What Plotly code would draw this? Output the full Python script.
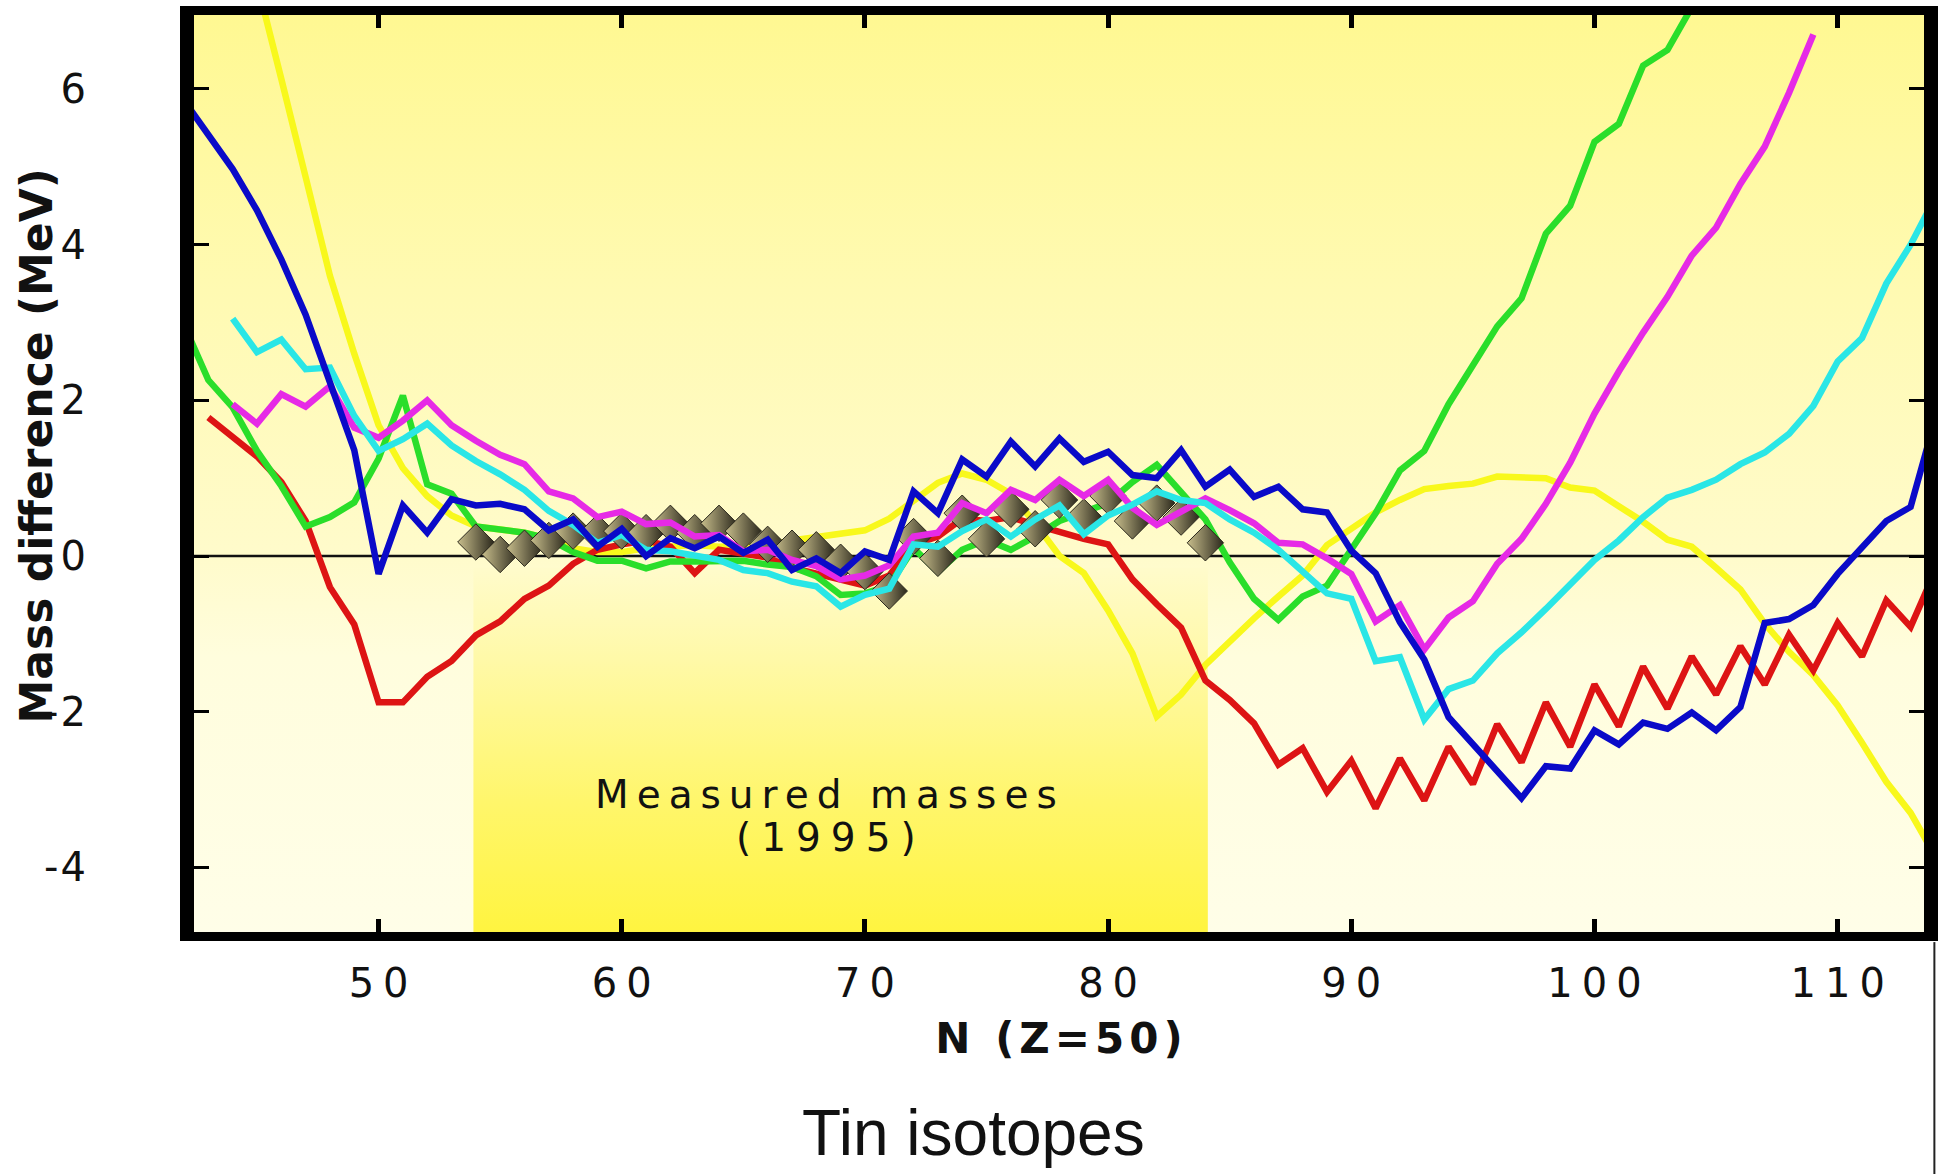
import plotly.graph_objects as go

# ---------------- data ----------------
# mass difference (MeV) versus neutron number N for tin (Z=50)
RED_N0 = 43
RED = [1.78, 1.52, 1.28, 0.95, 0.45, -0.40, -0.88, -1.88, -1.88, -1.55,
       -1.35, -1.02, -0.84, -0.55, -0.38, -0.10, 0.08, 0.15, 0.20, 0.12,
       -0.22, 0.08, 0.02, -0.02, -0.15, -0.22, -0.30, -0.38, -0.25, 0.15,
       0.25, 0.48, 0.45, 0.50, 0.40, 0.30, 0.22, 0.15, -0.30, -0.62,
       -0.92, -1.60, -1.85, -2.15, -2.68, -2.47, -3.03, -2.63, -3.24, -2.60,
       -3.14, -2.45, -2.93, -2.16, -2.65, -1.88, -2.45, -1.65, -2.19, -1.42,
       -1.96, -1.29, -1.78, -1.16, -1.65, -1.01, -1.47, -0.86, -1.29, -0.57,
       -0.91, -0.20]

BLUE_N0 = 42
BLUE = [5.85, 5.42, 4.97, 4.44, 3.81, 3.10, 2.20, 1.36, -0.23, 0.65,
        0.30, 0.73, 0.65, 0.67, 0.60, 0.33, 0.47, 0.12, 0.35, 0.00,
        0.23, 0.10, 0.25, 0.04, 0.21, -0.18, -0.03, -0.22, 0.06, -0.05,
        0.83, 0.55, 1.24, 1.02, 1.47, 1.15, 1.51, 1.21, 1.34, 1.04,
        1.00, 1.36, 0.89, 1.11, 0.76, 0.89, 0.60, 0.56, 0.07, -0.22,
        -0.85, -1.33, -2.07, -2.42, -2.75, -3.11, -2.70, -2.73, -2.24, -2.42,
        -2.14, -2.22, -2.01, -2.24, -1.94, -0.86, -0.81, -0.63, -0.23, 0.12,
        0.45, 0.63, 1.75]

YELLOW_N0 = 44
YELLOW = [8.60, 7.40, 6.13, 4.87, 3.60, 2.60, 1.68, 1.13, 0.77, 0.52,
          0.38, 0.34, 0.30, 0.22, 0.10, 0.05, 0.05, 0.10, 0.12, 0.14,
          0.12, 0.12, 0.14, 0.20, 0.25, 0.28, 0.33, 0.48, 0.72, 0.94,
          1.06, 0.98, 0.80, 0.42, 0.00, -0.22, -0.70, -1.25, -2.06, -1.78,
          -1.40, -1.09, -0.80, -0.52, -0.25, 0.14, 0.36, 0.56, 0.72, 0.86,
          0.90, 0.93, 1.02, 1.02, 1.00, 0.88, 0.84, 0.64, 0.44, 0.21,
          0.12, -0.15, -0.43, -0.87, -1.23, -1.53, -1.92, -2.40, -2.90, -3.30,
          -3.85]

GREEN_N0 = 42
GREEN = [2.97, 2.26, 1.91, 1.35, 0.90, 0.38, 0.50, 0.69, 1.25, 2.06,
         0.92, 0.80, 0.38, 0.34, 0.30, 0.22, 0.05, -0.06, -0.06, -0.16,
         -0.07, -0.07, -0.07, -0.06, -0.11, -0.14, -0.26, -0.50, -0.48, -0.38,
         0.10, -0.20, 0.08, 0.21, 0.08, 0.25, 0.45, 0.56, 0.68, 0.95,
         1.17, 0.82, 0.47, -0.08, -0.55, -0.82, -0.52, -0.38, 0.07, 0.55,
         1.10, 1.35, 1.95, 2.45, 2.95, 3.31, 4.14, 4.50, 5.32, 5.55,
         6.30, 6.50, 7.05, 7.70]

MAGENTA_N0 = 44
MAGENTA = [1.95, 1.70, 2.08, 1.92, 2.18, 1.65, 1.52, 1.74, 2.00, 1.68,
           1.48, 1.30, 1.18, 0.83, 0.74, 0.50, 0.57, 0.41, 0.43, 0.25,
           0.27, 0.06, 0.08, -0.05, -0.13, -0.30, -0.25, -0.12, 0.25, 0.30,
           0.68, 0.55, 0.85, 0.72, 0.98, 0.77, 0.98, 0.62, 0.40, 0.57,
           0.74, 0.59, 0.42, 0.17, 0.15, -0.03, -0.23, -0.84, -0.63, -1.20,
           -0.79, -0.58, -0.10, 0.22, 0.67, 1.20, 1.83, 2.37, 2.87, 3.33,
           3.86, 4.22, 4.78, 5.26, 5.95, 6.70]

CYAN_N0 = 44
CYAN = [3.05, 2.62, 2.78, 2.40, 2.42, 1.80, 1.35, 1.50, 1.70, 1.42,
        1.22, 1.05, 0.85, 0.58, 0.40, 0.17, 0.27, 0.08, 0.06, 0.00,
        -0.05, -0.18, -0.22, -0.33, -0.39, -0.65, -0.50, -0.42, 0.15, 0.12,
        0.32, 0.47, 0.25, 0.47, 0.65, 0.28, 0.52, 0.66, 0.83, 0.72,
        0.68, 0.47, 0.30, 0.08, -0.20, -0.48, -0.55, -1.35, -1.30, -2.10,
        -1.71, -1.60, -1.25, -0.98, -0.68, -0.35, -0.05, 0.20, 0.50, 0.75,
        0.85, 0.98, 1.18, 1.33, 1.57, 1.93, 2.50, 2.80, 3.50, 4.00,
        4.60]

MEASURED_N0 = 54
MEASURED = [0.18, 0.02, 0.10, 0.20, 0.32, 0.30, 0.32, 0.30, 0.42, 0.30,
            0.42, 0.32, 0.15, 0.10, 0.08, -0.08, -0.20, -0.45, 0.25, -0.03,
            0.55, 0.22, 0.60, 0.35, 0.72, 0.50, 0.77, 0.45, 0.68, 0.50,
            0.17]

X_TICKS = [50, 60, 70, 80, 90, 100, 110]
Y_TICKS = [-4, -2, 0, 2, 4, 6]

X_RANGE = [42.41, 113.55]
Y_RANGE = [-4.83, 6.95]


def ns(n0, vals):
    return list(range(n0, n0 + len(vals)))


def spaced(s, px):
    if len(s) < 2:
        return s
    return '<span style="letter-spacing:%dpx">%s</span>%s' % (px, s[:-1], s[-1])


fig = go.Figure()

# ---------- background gradients ----------
x0, x1 = X_RANGE
y0, y1 = Y_RANGE
fig.add_trace(go.Scatter(
    x=[x0, x1, x1, x0, x0], y=[y0, y0, y1, y1, y0],
    mode='lines', line=dict(width=0), fill='toself',
    fillgradient=dict(type='vertical', start=y0, stop=y1,
                      colorscale=[[0.0, '#FFFEE8'], [0.30, '#FFFDDD'],
                                  [0.41, '#FFFBCB'], [0.70, '#FFFAB2'],
                                  [1.0, '#FFF892']]),
    hoverinfo='skip', showlegend=False))

m_ns = ns(MEASURED_N0, MEASURED)
bx0, bx1 = m_ns[0] - 0.1, m_ns[-1] + 0.1
fig.add_trace(go.Scatter(
    x=[bx0, bx1, bx1, bx0, bx0], y=[y0, y0, -0.15, -0.15, y0],
    mode='lines', line=dict(width=0), fill='toself',
    fillgradient=dict(type='vertical', start=y0, stop=-0.15,
                      colorscale=[[0.0, '#FFF440'], [0.35, '#FFF66A'],
                                  [0.75, '#FFF9A8'], [1.0, '#FFFBCB']]),
    hoverinfo='skip', showlegend=False))

# zero reference line
fig.add_trace(go.Scatter(x=X_RANGE, y=[0, 0], mode='lines',
                         line=dict(color='#111111', width=2.5),
                         hoverinfo='skip', showlegend=False))

LW = 6.5
series_low = [
    ('yellow', YELLOW_N0, YELLOW, '#F8F81C'),
    ('red', RED_N0, RED, '#DD1414'),
    ('green', GREEN_N0, GREEN, '#2ADE2A'),
]
series_high = [
    ('magenta', MAGENTA_N0, MAGENTA, '#E62AE6'),
    ('cyan', CYAN_N0, CYAN, '#2AE6E6'),
    ('blue', BLUE_N0, BLUE, '#0A0AC8'),
]
for name, n0, vals, col in series_low:
    fig.add_trace(go.Scatter(x=ns(n0, vals), y=vals, mode='lines', name=name,
                             line=dict(color=col, width=LW), showlegend=False))

fig.add_trace(go.Scatter(
    x=m_ns, y=MEASURED, mode='markers', name='measured',
    marker=dict(symbol='diamond', size=28, color='#C8BE8C',
                gradient=dict(type='horizontal', color='#2B281C'),
                line=dict(color='#2B281C', width=1)),
    showlegend=False))

for name, n0, vals, col in series_high:
    fig.add_trace(go.Scatter(x=ns(n0, vals), y=vals, mode='lines', name=name,
                             line=dict(color=col, width=LW), showlegend=False))

TICK_FONT = dict(family='DejaVu Sans, Liberation Sans, Arial', size=40, color='#111111')

fig.update_xaxes(
    range=X_RANGE, tickmode='array', tickvals=X_TICKS,
    ticktext=[spaced(str(v), 9) for v in X_TICKS],
    ticks='inside', ticklen=13, tickwidth=5, tickcolor='black',
    showline=True, linewidth=9, linecolor='black', mirror='ticks',
    showgrid=False, zeroline=False, tickfont=TICK_FONT,
    ticklabelstandoff=8,
    title=dict(text=spaced('N (Z=50)', 5), standoff=22,
               font=dict(family='DejaVu Sans, Liberation Sans, Arial',
                         size=42, color='#111111', weight='bold')))
fig.update_yaxes(
    range=Y_RANGE, tickmode='array', tickvals=Y_TICKS,
    ticktext=[spaced(str(v), 2) for v in Y_TICKS],
    ticks='inside', ticklen=15, tickwidth=3, tickcolor='black',
    showline=True, linewidth=14, linecolor='black', mirror='ticks',
    showgrid=False, zeroline=False, tickfont=TICK_FONT,
    ticklabelstandoff=86)

# y-axis title (placed as rotated annotation to match the original position)
fig.add_annotation(x=-0.0905, y=0.530, xref='paper', yref='paper', showarrow=False,
                   text='Mass difference (MeV)', textangle=-90,
                   font=dict(family='DejaVu Sans, Liberation Sans, Arial', size=44,
                             color='#111111', weight='bold'),
                   xanchor='center', yanchor='middle')

ANN_FONT = dict(family='DejaVu Sans, Liberation Sans, Arial', size=39, color='#111111')
mid_n = 68.4
fig.add_annotation(x=mid_n, y=-3.06, xref='x', yref='y', showarrow=False,
                   text=spaced('Measured masses', 8), font=ANN_FONT,
                   xanchor='center', yanchor='middle')
fig.add_annotation(x=mid_n, y=-3.62, xref='x', yref='y', showarrow=False,
                   text=spaced('(1995)', 10), font=ANN_FONT,
                   xanchor='center', yanchor='middle')
fig.add_annotation(x=0.4503, y=-0.219, xref='paper', yref='paper', showarrow=False,
                   text='Tin isotopes',
                   font=dict(family='Liberation Sans Narrow, Liberation Sans, Arial',
                             size=64, color='#111111'),
                   xanchor='center', yanchor='middle')

# thin page border continuing below the frame on the right
fig.add_shape(type='line', xref='paper', yref='paper',
              x0=1.006, x1=1.006, y0=-0.011, y1=-0.27,
              line=dict(color='#222222', width=2))

fig.update_layout(
    width=1943, height=1174,
    margin=dict(l=194, r=19, t=15, b=242, autoexpand=False),
    paper_bgcolor='white', plot_bgcolor='#FFFDE4',
    showlegend=False,
)

fig.write_html('out.html', include_plotlyjs=True, full_html=True,
               config={'displayModeBar': False})
